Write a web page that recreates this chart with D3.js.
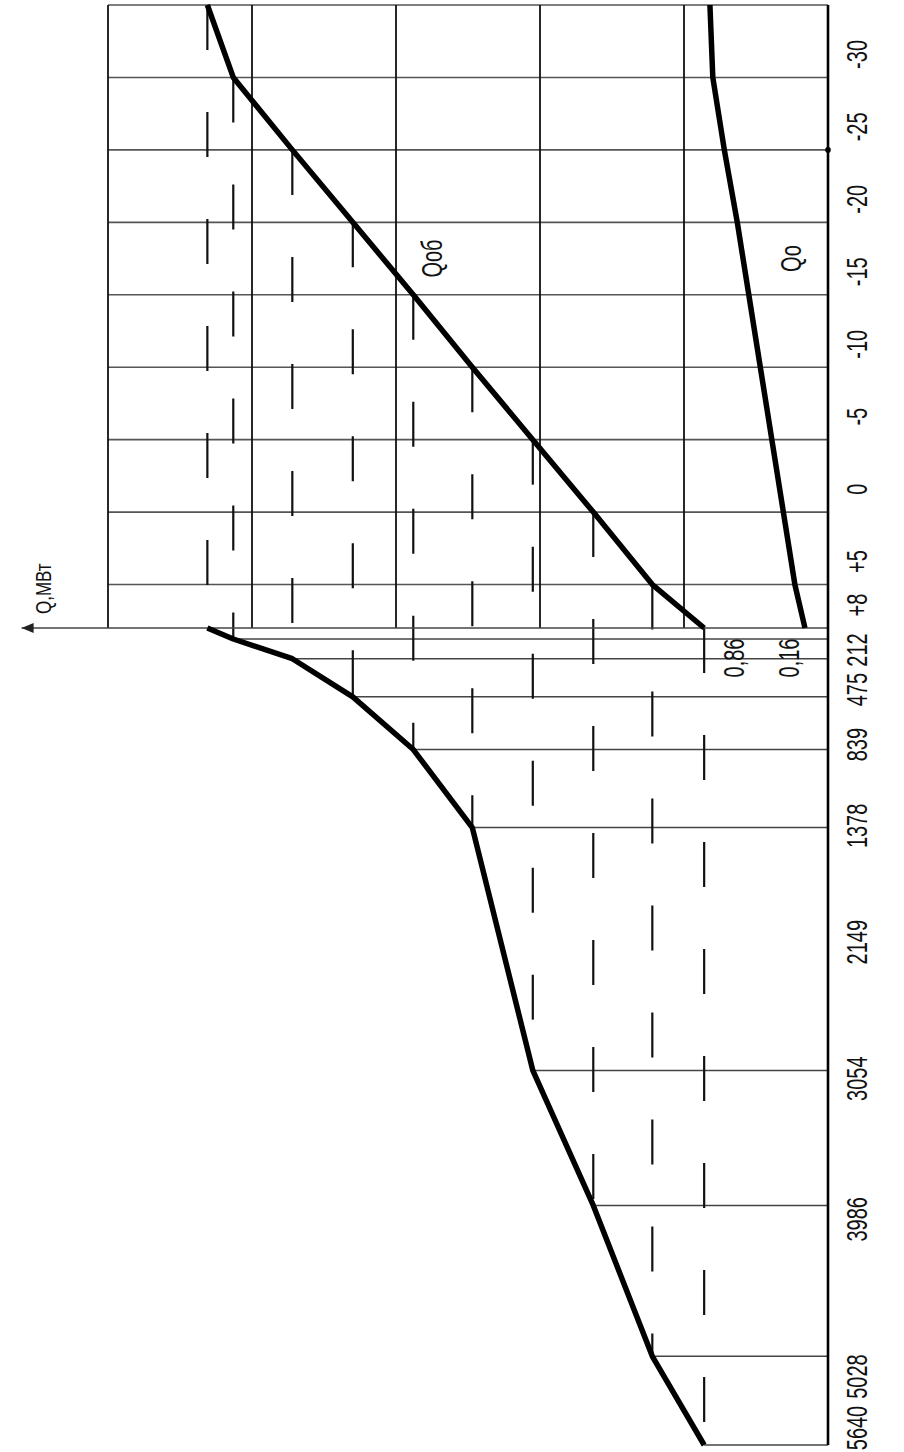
<!DOCTYPE html>
<html>
<head>
<meta charset="utf-8">
<script src="https://cdn.jsdelivr.net/npm/d3@7"></script>
<style>
  body { margin: 0; background: #fff; }
  text { font-family: "Liberation Sans", Arial, sans-serif; fill: #111; }
</style>
</head>
<body>
<div id="chart"></div>
<script>
// outdoor temperature points, deg C
const temps = [-35, -30, -25, -20, -15, -10, -5, 0, 5, 8];
// total load Qоб at those temperatures, MW
const qTotal = [4.31, 4.13, 3.72, 3.30, 2.88, 2.47, 2.05, 1.63, 1.22, 0.86];
// load Qо at those temperatures, MW
const qHeat = [0.82, 0.80, 0.72, 0.63, 0.55, 0.47, 0.39, 0.31, 0.23, 0.16];
// hours per season with temperature at or below each point
const hours = [0, 76, 212, 475, 839, 1378, 3054, 3986, 5028, 5640];

const tempTicks = [-30, -25, -20, -15, -10, -5, 0, 5, 8];
const hourTicks = [212, 475, 839, 1378, 2149, 3054, 3986, 5028, 5640];
const qGrid = [1, 2, 3, 4, 5];

const width = 904, height = 1452;

// chart is drawn turned 90deg: the t / hours axis runs down the right side, Q grows to the left
const t = d3.scaleLinear().domain([8, -35]).range([628, 5]);
const h = d3.scaleLinear().domain([0, 5640]).range([628, 1445]);
const q = d3.scaleLinear().domain([0, 5]).range([828, 108]);

const svg = d3.select("#chart").append("svg")
  .attr("width", width)
  .attr("height", height);

const pts = temps.map((d, i) => ({t: d, qt: qTotal[i], qo: qHeat[i], h: hours[i]}));

// temperature grid (horizontal here)
svg.append("g").selectAll("line")
  .data(temps.filter(d => d !== 8))
  .enter().append("line")
  .attr("x1", q(5)).attr("x2", q(0))
  .attr("y1", d => t(d)).attr("y2", d => t(d))
  .attr("stroke", "#555").attr("stroke-width", 1.6);

// Q grid (vertical here)
svg.append("g").selectAll("line")
  .data(qGrid)
  .enter().append("line")
  .attr("x1", d => q(d)).attr("x2", d => q(d))
  .attr("y1", t(-35)).attr("y2", t(8))
  .attr("stroke", "#111").attr("stroke-width", 1.8);

// hour lines from the axis to the duration curve
svg.append("g").selectAll("line")
  .data(pts.filter(d => d.h > 0))
  .enter().append("line")
  .attr("x1", d => q(d.qt)).attr("x2", q(0))
  .attr("y1", d => h(d.h)).attr("y2", d => h(d.h))
  .attr("stroke", "#444").attr("stroke-width", 1.5);

// dashed projections from Qоб(t) down to the duration curve
svg.append("g").selectAll("line")
  .data(pts)
  .enter().append("line")
  .attr("x1", d => q(d.qt)).attr("x2", d => q(d.qt))
  .attr("y1", d => t(d.t)).attr("y2", d => h(d.h))
  .attr("stroke", "#111").attr("stroke-width", 2.2)
  .attr("stroke-dasharray", "45,62");

// Q axis with arrow
svg.append("line")
  .attr("x1", q(0)).attr("x2", q(5.6))
  .attr("y1", t(8)).attr("y2", t(8))
  .attr("stroke", "#444").attr("stroke-width", 1.6);
svg.append("path")
  .attr("d", `M${q(5.6)},${t(8)} l12,-5 l0,10 z`)
  .attr("fill", "#222");

// thick curves
const lineQt = d3.line().x(d => q(d.qt)).y(d => t(d.t));
const lineQo = d3.line().x(d => q(d.qo)).y(d => t(d.t));
const lineDur = d3.line().x(d => q(d.qt)).y(d => h(d.h));

[lineQt, lineQo, lineDur].forEach(fn => {
  svg.append("path")
    .attr("d", fn(pts))
    .attr("fill", "none")
    .attr("stroke", "#000")
    .attr("stroke-width", 5.5)
    .attr("stroke-linejoin", "round");
});

// main axis
svg.append("line")
  .attr("x1", q(0)).attr("x2", q(0))
  .attr("y1", t(-35)).attr("y2", h(5640))
  .attr("stroke", "#000").attr("stroke-width", 2.6);
svg.append("circle")
  .attr("cx", q(0)).attr("cy", t(-25)).attr("r", 2.8)
  .attr("fill", "#000");

// rotated, tall narrow text, reads bottom to top
function vtext(x, y, str, size, k, anchor) {
  svg.append("text")
    .attr("transform", `translate(${x},${y}) rotate(-90) scale(1,${k})`)
    .attr("text-anchor", anchor || "middle")
    .attr("dominant-baseline", "central")
    .style("font-size", size + "px")
    .text(str);
}

const fmtT = d => d > 0 ? "+" + d : String(d);
tempTicks.forEach(d => vtext(857, t(d) - 23, fmtT(d), 20, 1.45));
// hour labels drift a little below their lines further down the axis
hourTicks.forEach(d => vtext(857, Math.min(h(d) - 10 + d * 0.006, h(5640) - 17), d, 20, 1.45));

vtext(q(2.75), t(-17.5), "Qоб", 20, 1.45);
vtext(q(0.26), t(-17.5), "Qо", 20, 1.45);
vtext(q(0.86) + 29, t(8) + 30, "0,86", 20, 1.45);
vtext(q(0.16) - 16, t(8) + 30, "0,16", 20, 1.45);
vtext(q(5.45), t(8) - 14, "Q,МВт", 17, 1.3, "start");
</script>
</body>
</html>
